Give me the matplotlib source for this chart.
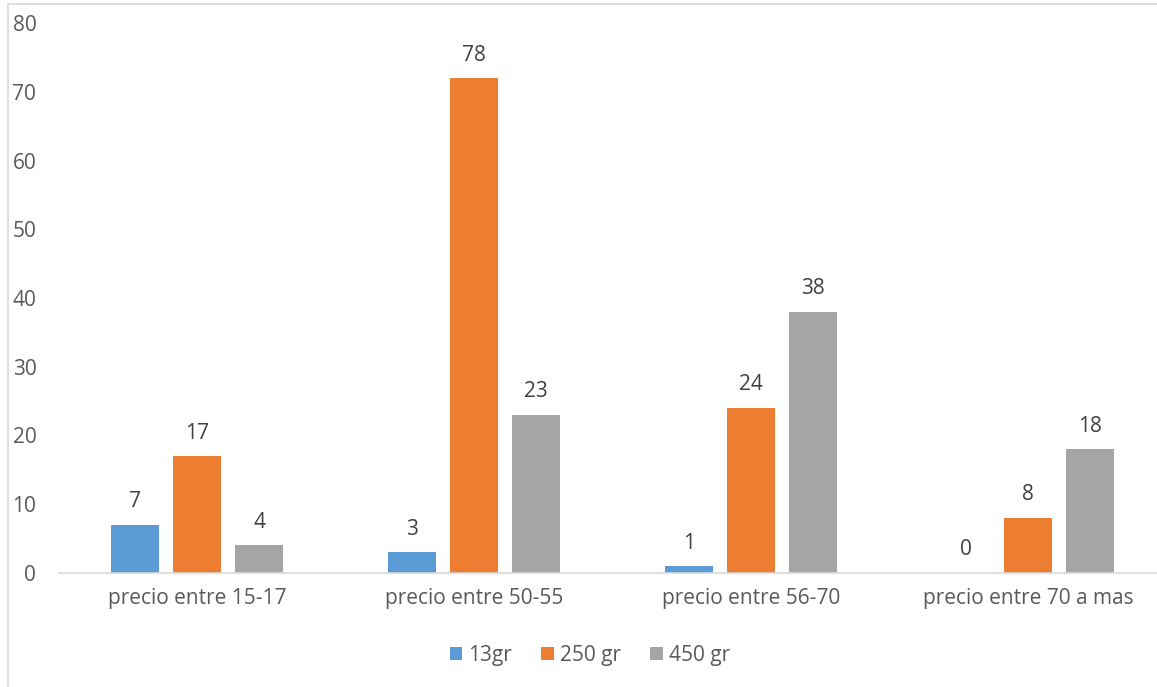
import numpy as np
import matplotlib.pyplot as plt
from matplotlib.patches import Rectangle

categories = ["precio entre 15-17", "precio entre 50-55", "precio entre 56-70", "precio entre 70 a mas"]
series_names = ["13gr", "250 gr", "450 gr"]
values_13 = [7, 3, 1, 0]
values_250 = [17, 72, 24, 8]
values_450 = [4, 23, 38, 18]
# data labels as printed on the chart (the 50-55 orange bar is labelled 78)
labels_13 = ["7", "3", "1", "0"]
labels_250 = ["17", "78", "24", "8"]
labels_450 = ["4", "23", "38", "18"]

colors = ["#5B9BD5", "#ED7D31", "#A5A5A5"]
text_color = "#595959"
fs = 15

plt.rcParams['font.family'] = ['Open Sans', 'DejaVu Sans']

fig = plt.figure(figsize=(11.57, 6.87), dpi=100)
ax = fig.add_axes([0.0506, 0.166, 0.9576, 0.8005])

# chart area frame
fig.patches.append(Rectangle((8 / 1157, -0.1), 1.2, 1.1 - 4 / 687, transform=fig.transFigure,
                             fill=False, edgecolor="#D9D9D9", linewidth=1.2))

x = np.arange(len(categories))
width = 0.173
offset = 0.224
all_vals = [values_13, values_250, values_450]
all_labels = [labels_13, labels_250, labels_450]
for i, (vals, labs) in enumerate(zip(all_vals, all_labels)):
    pos = x + (i - 1) * offset
    bars = ax.bar(pos, vals, width, color=colors[i], label=series_names[i], zorder=2)
    for b, lab in zip(bars, labs):
        ax.annotate(lab, (b.get_x() + b.get_width() / 2, b.get_height()),
                    xytext=(0, 9), textcoords="offset points", ha="center", va="bottom",
                    fontsize=fs, color="#404040")

ax.set_xlim(-0.5, len(categories) - 0.5)
ax.set_ylim(0, 80)
ax.set_yticks(range(0, 81, 10))
ax.set_xticks(x)
ax.set_xticklabels(categories)
ax.tick_params(axis="both", length=0, labelsize=fs, colors=text_color)
ax.tick_params(axis="x", pad=11)
ax.tick_params(axis="y", pad=16)
for s in ["top", "right", "left"]:
    ax.spines[s].set_visible(False)
ax.spines["bottom"].set_color("#D9D9D9")
ax.spines["bottom"].set_linewidth(1.2)

leg = ax.legend(loc="center", bbox_to_anchor=(590 / 1157, 32 / 687), bbox_transform=fig.transFigure,
                ncol=3, frameon=False, fontsize=fs, handlelength=0.6, handleheight=0.6,
                handletextpad=0.3, columnspacing=1.4)
for t in leg.get_texts():
    t.set_color(text_color)

fig.savefig("out.png", dpi=100)
